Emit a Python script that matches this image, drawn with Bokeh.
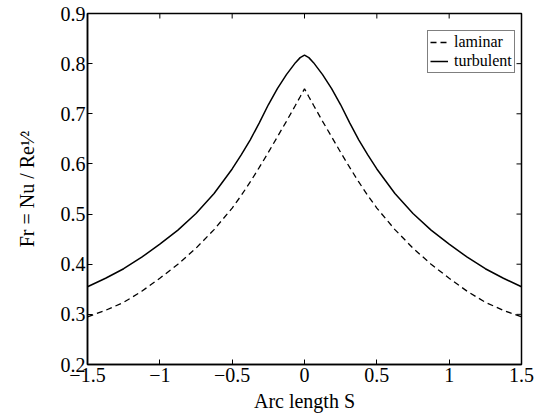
from bokeh.plotting import figure
from bokeh.models import Range1d, Legend, LegendItem, FixedTicker
from bokeh.embed import file_html
from bokeh.resources import INLINE

arc_length = [-1.5, -1.375, -1.25, -1.125, -1.0, -0.875, -0.75, -0.625, -0.5, -0.4375, -0.375, -0.3125,
              -0.25, -0.1875, -0.125, -0.0625, -0.03, 0.0,
              0.03, 0.0625, 0.125, 0.1875, 0.25, 0.3125, 0.375, 0.4375, 0.5, 0.625, 0.75, 0.875,
              1.0, 1.125, 1.25, 1.375, 1.5]
turbulent = [0.355, 0.372, 0.391, 0.414, 0.440, 0.468, 0.501, 0.541, 0.590, 0.618, 0.648, 0.682,
             0.718, 0.750, 0.778, 0.802, 0.812, 0.817,
             0.812, 0.802, 0.778, 0.750, 0.718, 0.682, 0.648, 0.618, 0.590, 0.541, 0.501, 0.468,
             0.440, 0.414, 0.391, 0.372, 0.355]
laminar = [0.295, 0.308, 0.324, 0.346, 0.372, 0.400, 0.432, 0.469, 0.512, 0.537, 0.564, 0.593,
           0.623, 0.654, 0.685, 0.717, 0.734, 0.750,
           0.734, 0.717, 0.685, 0.654, 0.623, 0.593, 0.564, 0.537, 0.512, 0.469, 0.432, 0.400,
           0.372, 0.346, 0.324, 0.308, 0.295]
x_ticks = [-1.5, -1.0, -0.5, 0.0, 0.5, 1.0, 1.5]
y_ticks = [0.2, 0.3, 0.4, 0.5, 0.6, 0.7, 0.8, 0.9]
x_min, x_max = -1.5, 1.5
y_min, y_max = 0.2, 0.9

FONT = "Liberation Serif"
FRAME_W, FRAME_H = 434, 351
TICK_PX = 5

p = figure(frame_width=FRAME_W, frame_height=FRAME_H, output_backend="svg", toolbar_location=None,
           x_range=Range1d(x_min, x_max), y_range=Range1d(y_min, y_max),
           min_border_left=87, min_border_right=13, min_border_top=13, min_border_bottom=50)
p.background_fill_color = "white"
p.border_fill_color = "white"
p.outline_line_color = "black"
p.outline_line_width = 1.5
p.xgrid.visible = False
p.ygrid.visible = False

lam = p.line(arc_length, laminar, line_color="black", line_width=1.3, line_dash="6 4")
tur = p.line(arc_length, turbulent, line_color="black", line_width=1.5)

# inward ticks on the top and right edges (mirror of the bottom/left axes)
dy = (y_max - y_min) * TICK_PX / FRAME_H
dx = (x_max - x_min) * TICK_PX / FRAME_W
p.segment(x0=x_ticks, y0=[y_max] * len(x_ticks), x1=x_ticks, y1=[y_max - dy] * len(x_ticks),
          line_color="black", line_width=1)
p.segment(x0=[x_max] * len(y_ticks), y0=y_ticks, x1=[x_max - dx] * len(y_ticks), y1=y_ticks,
          line_color="black", line_width=1)

xa = p.xaxis[0]
xa.ticker = FixedTicker(ticks=x_ticks)
xa.major_label_overrides = {-1.5: "\u22121.5", -1.0: "\u22121", -0.5: "\u22120.5", 0.0: "0",
                            0.5: "0.5", 1.0: "1", 1.5: "1.5"}
xa.major_tick_in = TICK_PX
xa.major_tick_out = 0
xa.minor_tick_line_color = None
xa.axis_line_width = 1.5
xa.major_label_text_font = FONT
xa.major_label_text_font_size = "20px"
xa.major_label_text_color = "black"
xa.major_label_standoff = 3
xa.axis_label = "Arc length S"
xa.axis_label_text_font = FONT
xa.axis_label_text_font_size = "20px"
xa.axis_label_text_font_style = "normal"
xa.axis_label_text_color = "black"
xa.axis_label_standoff = 5

ya = p.yaxis[0]
ya.ticker = FixedTicker(ticks=y_ticks)
ya.major_tick_in = TICK_PX
ya.major_tick_out = 0
ya.minor_tick_line_color = None
ya.axis_line_width = 1.5
ya.major_label_text_font = FONT
ya.major_label_text_font_size = "20px"
ya.major_label_text_color = "black"
ya.major_label_standoff = 2
ya.axis_label = "Fr = Nu / Re\u00b9\u2044\u00b2"
ya.axis_label_text_font = FONT
ya.axis_label_text_font_size = "20px"
ya.axis_label_text_font_style = "normal"
ya.axis_label_text_color = "black"
ya.axis_label_standoff = 20

legend = Legend(items=[LegendItem(label="laminar", renderers=[lam]),
                       LegendItem(label="turbulent", renderers=[tur])],
                location=(340, 291))
legend.label_text_font = FONT
legend.label_text_font_size = "16px"
legend.label_text_line_height = 1.0
legend.label_text_color = "black"
legend.border_line_color = "black"
legend.border_line_width = 1
legend.background_fill_alpha = 1
legend.glyph_width = 18
legend.glyph_height = 14
legend.label_height = 14
legend.spacing = 1
legend.padding = 2
legend.label_standoff = 6
legend.margin = 0
p.add_layout(legend)

open("out.html", "w").write(file_html(p, INLINE))
